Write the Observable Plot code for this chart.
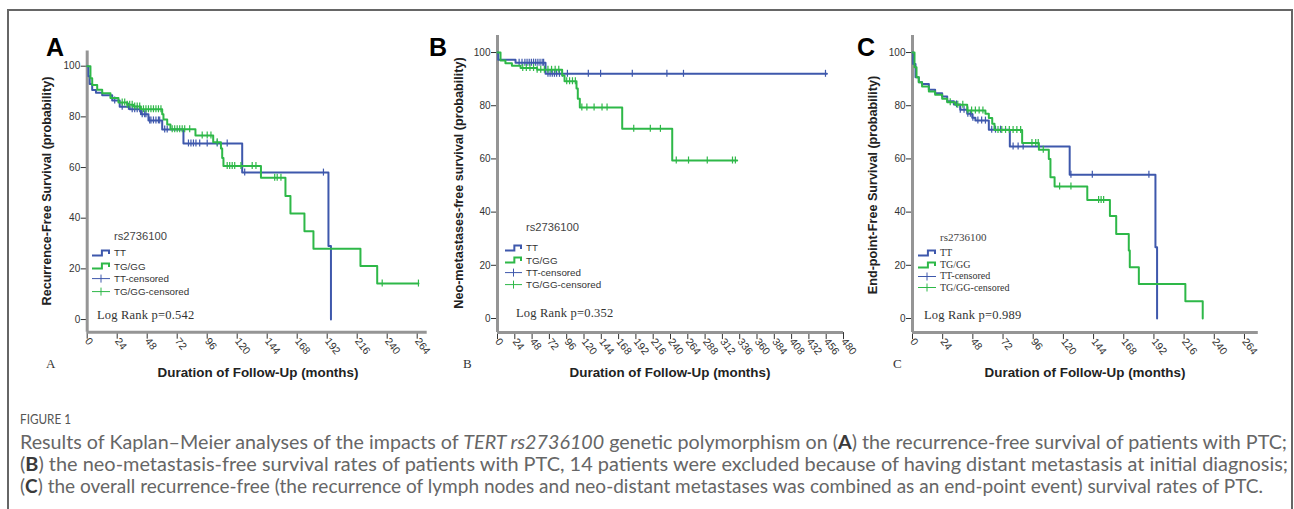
<!DOCTYPE html>
<html><head><meta charset="utf-8">
<script src="https://cdn.jsdelivr.net/npm/d3@7"></script>
<script src="https://cdn.jsdelivr.net/npm/@observablehq/plot@0.6"></script>
<style>
body{margin:0;background:#fff;}
#page{position:relative;width:1294px;height:509px;overflow:hidden;font-family:Arial,"Liberation Sans",sans-serif;background:#fff;}
#box{position:absolute;left:7px;top:9px;width:1282px;height:560px;border:2px solid #666;}
.abs{position:absolute;white-space:nowrap;}
.letter{font:bold 25px Arial,"Liberation Sans",sans-serif;color:#000;line-height:1;}
.ylab{font:bold 12.6px Arial,"Liberation Sans",sans-serif;color:#222;transform:translate(-50%,-50%) rotate(-90deg);}
.xlab{font:bold 13.4px Arial,"Liberation Sans",sans-serif;color:#222;transform:translate(-50%,-50%);}
.small{font:13px "Liberation Serif","Times New Roman",serif;color:#333;line-height:1;}
.lg{color:#333;line-height:1;transform:translateY(-50%);display:flex;align-items:center;}
.lg svg{margin-right:4px;}
.logrank{font:12.5px "Liberation Serif","Times New Roman",serif;color:#333;transform:translateY(-50%);letter-spacing:0.2px;}
.cap{font-family:Lato,"Open Sans",sans-serif;font-weight:400;color:#666;font-size:18.5px;transform-origin:0 50%;line-height:1;}
.fig{font-family:Lato,"Open Sans",sans-serif;color:#555;font-size:13px;transform-origin:0 50%;line-height:1;}
.cap b{color:#3a3a3a;font-weight:700;}
</style></head><body>
<div id="page"><div id="box"></div></div>
<script>
// ---------- DATA ----------
const blue = "#3E58AC", green = "#2EB848";
const yTicks = [0, 20, 40, 60, 80, 100];
const xTicksA = [0, 24, 48, 72, 96, 120, 144, 168, 192, 216, 240, 264];
const xTicksB = [0, 24, 48, 72, 96, 120, 144, 168, 192, 216, 240, 264, 288, 312, 336, 360, 384, 408, 432, 456, 480];
const xTicksC = [0, 24, 48, 72, 96, 120, 144, 168, 192, 216, 240, 264];
const groupLabels = ["TT", "TG/GG", "TT-censored", "TG/GG-censored"];
const snpName = "rs2736100";

// Panel A: recurrence-free survival
const aTTTime = [0, 1, 2, 4, 7, 12, 20, 26, 34, 43, 49, 60, 77, 124, 193, 195];
const aTTSurv = [100, 96, 93, 90.6, 89.5, 88.5, 86.5, 84, 83, 81, 78.6, 75, 69.5, 58, 29, 0];
const aTTCens = [22, 28, 33, 36, 38, 40, 42, 44, 46, 47, 50, 51, 53, 55, 57, 58, 62, 64, 81, 83, 85, 87, 90, 96, 104, 112, 126, 189];
const aTGTime = [0, 2.6, 4, 8, 12, 18.6, 25, 32, 37, 43, 60, 61, 64, 66.6, 86.6, 100.8, 107, 108, 109, 139, 158.6, 162.6, 173.8, 181, 218.6, 232, 265];
const aTGSurv = [100, 95.2, 92.6, 90.7, 89.3, 87.4, 85.7, 84.8, 84.1, 83, 81, 79, 77, 75.1, 72.6, 70, 67.5, 63.8, 60.6, 56, 48.8, 41.9, 34.8, 27.9, 21.1, 14.2, 14.2];
const aTGCens = [28, 30, 32, 34, 36, 38, 40, 42, 45, 47, 49, 51, 53, 55, 57, 59, 68, 70, 72, 74, 76, 78, 82, 92, 96, 99, 104, 112, 114, 116, 118, 123, 132, 135, 150, 152, 155, 236, 265];
const aPValue = "0.542";

// Panel B: neo-metastases-free survival
const bTTTime = [0, 1, 25, 66.6, 457];
const bTTSurv = [100, 97.3, 96.2, 92, 92];
const bTTCens = [30, 34, 38, 41, 44, 47, 50, 53, 56, 59, 62, 64, 70, 73, 76, 79, 82, 86, 90, 97, 126, 143, 187, 235, 258, 455];
const bTGTime = [0, 4.2, 11, 20, 32, 55, 89.7, 93, 109.6, 111.4, 114.2, 173, 242.4, 332.5];
const bTGSurv = [100, 97, 96, 95, 94.2, 93.5, 91.4, 89.2, 86.5, 82.6, 79.3, 71.3, 59.4, 59.4];
const bTGCens = [35, 40, 45, 50, 55, 60, 65, 70, 75, 80, 85, 96, 100, 104, 108, 117, 124, 134, 145, 152, 189, 212, 226, 248, 265, 291, 326, 330];
const bPValue = "0.352";

// Panel C: end-point-free survival
const cTTTime = [0, 0.5, 2.4, 5, 7.6, 13, 18, 23.6, 27.6, 32.9, 38, 43.5, 47.5, 50, 60.7, 77.4, 125, 193.2, 194.5];
const cTTSurv = [100, 95.7, 90.7, 88.8, 88.2, 86, 84.7, 83.5, 81.7, 80.5, 78.5, 77, 75.5, 74.4, 71, 64.7, 54, 26.8, 0];
const cTTCens = [35, 38, 41, 44, 46, 48, 52, 55, 58, 63, 66, 70, 80, 84, 88, 126, 143, 188];
const cTGTime = [0, 1.6, 3.2, 5, 7.6, 13, 18, 23.6, 27.6, 34, 43.5, 58, 60.7, 63.4, 65.2, 87.2, 100.5, 108.4, 109.7, 113, 139, 157, 162, 172, 172.8, 180, 217, 230.8];
const cTGSurv = [100, 94.5, 90.7, 88.8, 87.2, 85.3, 84.1, 82.6, 81.3, 80.4, 78.2, 77, 75.4, 73.2, 70.9, 66, 63.4, 60, 53.1, 49.6, 44.6, 38.5, 31.8, 25.6, 19.3, 13, 6.5, 0];
const cTGCens = [30, 36, 40, 44, 47, 50, 53, 56, 68, 71, 74, 77, 80, 83, 86, 95, 98, 100, 104, 117, 126, 148, 150, 152];
const cPValue = "0.989";

const captionFigure = "FIGURE 1";
const captionLines = [
  'Results of Kaplan–Meier analyses of the impacts of <i>TERT rs2736100</i> genetic polymorphism on (<b>A</b>) the recurrence-free survival of patients with PTC;',
  '(<b>B</b>) the neo-metastasis-free survival rates of patients with PTC, 14 patients were excluded because of having distant metastasis at initial diagnosis;',
  '(<b>C</b>) the overall recurrence-free (the recurrence of lymph nodes and neo-distant metastases was combined as an end-point event) survival rates of PTC.'
];

// ---------- LAYOUT ----------
const page = document.getElementById("page");
function stepAt(t, T, S) { let s = S[0]; for (let i = 0; i < T.length; i++) if (T[i] <= t) s = S[i]; return s; }
function rows(T, S) { return T.map((t, i) => ({t, s: S[i]})); }
function cens(C, T, S) { return C.map(t => ({t, s: stepAt(t, T, S)})); }
function add(html, cls, left, top, extra) {
  const d = document.createElement("div");
  d.className = "abs " + cls; d.innerHTML = html;
  d.style.left = left + "px"; d.style.top = top + "px";
  if (extra) Object.assign(d.style, extra);
  page.appendChild(d); return d;
}

function panel(c) {
  const censMark = (data, color) => Plot.ruleX(data, {x: "t", y1: "s", y2: "s", insetTop: -3.5, insetBottom: -3.5, stroke: color, strokeWidth: 1.2});
  const svg = Plot.plot({
    width: c.w, height: c.h,
    marginLeft: c.ml, marginRight: c.mr, marginTop: c.mt, marginBottom: c.mb,
    x: {domain: c.xDomain}, y: {domain: c.yDomain},
    style: {fontFamily: "Arial, 'Liberation Sans', sans-serif", fontSize: "10px", color: "#333", background: "transparent", overflow: "visible"},
    marks: [
      Plot.axisY({ticks: yTicks, tickSize: 6, tickPadding: 1, label: null, fontSize: 10}),
      Plot.axisX({ticks: c.xTicks, tickSize: 7, tickRotate: 52, tickPadding: 0, label: null, fontSize: 10.5}),
      Plot.ruleX([0], {stroke: "#959595", strokeWidth: 3}),
      Plot.ruleY([c.yDomain[0]], {stroke: "#959595", strokeWidth: 3}),
      Plot.line(rows(c.ttT, c.ttS), {x: "t", y: "s", curve: "step-after", stroke: blue, strokeWidth: 2}),
      censMark(cens(c.ttC, c.ttT, c.ttS), blue),
      Plot.line(rows(c.tgT, c.tgS), {x: "t", y: "s", curve: "step-after", stroke: green, strokeWidth: 2}),
      censMark(cens(c.tgC, c.tgT, c.tgS), green)
    ]
  });
  svg.style.position = "absolute"; svg.style.left = c.left + "px"; svg.style.top = c.top + "px";
  page.appendChild(svg);

  add(c.letter, "letter", c.letterX, c.letterY);
  add(c.ylabel, "ylab", c.ylabX, c.ylabY);
  add("Duration of Follow-Up (months)", "xlab", c.xlabX, 371.5);
  add(c.letter, "small", c.smallX, 357);
  // legend
  const ff = c.serifLegend ? "'Liberation Serif','Times New Roman',serif" : "Arial,'Liberation Sans',sans-serif";
  add(snpName, "lg", c.lgX + c.symW + 4, c.lgTitleY, {fontFamily: ff, fontSize: c.titleSize + "px", color: "#444"});
  const stepIcon = col => `<svg width="${c.symW}" height="8"><path d="M0,6.5 H${c.symW*0.55} V1.5 H${c.symW-1} V5" fill="none" stroke="${col}" stroke-width="2"/></svg>`;
  const censIcon = col => `<svg width="${c.symW}" height="9"><path d="M0,4.5 H${c.symW} M${c.symW/2},0.5 V8.5" fill="none" stroke="${col}" stroke-width="1"/></svg>`;
  const icons = [stepIcon(blue), stepIcon(green), censIcon(blue), censIcon(green)];
  groupLabels.forEach((lab, i) => {
    add(icons[i] + "<span>" + lab + "</span>", "lg", c.lgX, c.lgY[i], {fontFamily: ff, fontSize: c.itemSize + "px"});
  });
  add("Log Rank p=" + c.p, "logrank", c.lrX, c.lrY);
}

panel({left: 10, top: 12, w: 425, h: 370, ml: 76.7, mr: 8.3, mt: 38.5, mb: 50.3,
  xDomain: [0, 272], yDomain: [-5, 106], xTicks: xTicksA,
  ttT: aTTTime, ttS: aTTSurv, ttC: aTTCens, tgT: aTGTime, tgS: aTGSurv, tgC: aTGCens, p: aPValue,
  letter: "A", letterX: 46, letterY: 35, ylabel: "Recurrence-Free Survival (probability)", ylabX: 47, ylabY: 191,
  xlabX: 258, smallX: 46, lgX: 92, symW: 18, lgTitleY: 237, lgY: [253, 266.5, 279, 291.5], titleSize: 11.2, itemSize: 9.8,
  serifLegend: false, lrX: 97, lrY: 315});
panel({left: 440, top: 12, w: 415, h: 370, ml: 57, mr: 12, mt: 23, mb: 49.9,
  xDomain: [0, 480], yDomain: [-5.3, 106.4], xTicks: xTicksB,
  ttT: bTTTime, ttS: bTTSurv, ttC: bTTCens, tgT: bTGTime, tgS: bTGSurv, tgC: bTGCens, p: bPValue,
  letter: "B", letterX: 429, letterY: 35, ylabel: "Neo-metastases-free survival (probability)", ylabX: 459, ylabY: 183,
  xlabX: 670, smallX: 463, lgX: 505, symW: 17, lgTitleY: 228, lgY: [248, 260.5, 272.5, 285], titleSize: 11.2, itemSize: 9.8,
  serifLegend: false, lrX: 516, lrY: 313});
panel({left: 855, top: 12, w: 420, h: 370, ml: 57, mr: 17.2, mt: 23, mb: 49.9,
  xDomain: [0, 275], yDomain: [-5.3, 106.4], xTicks: xTicksC,
  ttT: cTTTime, ttS: cTTSurv, ttC: cTTCens, tgT: cTGTime, tgS: cTGSurv, tgC: cTGCens, p: cPValue,
  letter: "C", letterX: 857, letterY: 35, ylabel: "End-point-Free Survival (probability)", ylabX: 873, ylabY: 185,
  xlabX: 1085, smallX: 893, lgX: 918, symW: 18, lgTitleY: 237, lgY: [253, 264.5, 276, 287.5], titleSize: 11, itemSize: 10,
  serifLegend: true, lrX: 924, lrY: 315});

// panel x-label positions
document.querySelectorAll(".xlab").forEach((d, i) => { d.style.left = [258, 670, 1085][i] + "px"; });

// caption
const fig = add(captionFigure, "fig", 20, 413);
const fitW = (el, w) => { const r = el.getBoundingClientRect().width; el.style.transform = `scaleX(${w / r})`; };
fitW(fig, 51);
const capTargets = [1267, 1268, 1243];
captionLines.forEach((l, i) => {
  const el = add(l, "cap", 20, 433 + i * 22);
  fitW(el, capTargets[i]);
});
</script>
</body></html>
